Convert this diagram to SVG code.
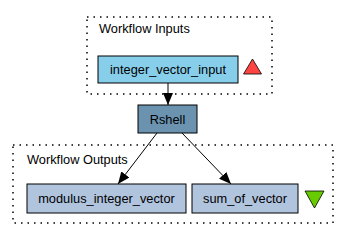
<svg xmlns="http://www.w3.org/2000/svg" width="349" height="240" viewBox="0 0 349 240">
  <defs>
    <style>
      text { font-family: "Liberation Sans", Arial, sans-serif; font-size: 12.8px; fill: #000; }
      .cluster { fill: none; stroke: #000; stroke-width: 1.5; stroke-dasharray: 1.5 5; }
      .node { stroke: #000; stroke-width: 1; }
      .edge { fill: none; stroke: #000; stroke-width: 1; }
      .mid { text-anchor: middle; }
    </style>
    <marker id="arrow" viewBox="0 0 12 10" refX="12" refY="5" markerWidth="12" markerHeight="10" markerUnits="userSpaceOnUse" orient="auto">
      <path d="M0,0 L12,5 L0,10 Z" fill="#000"/>
    </marker>
  </defs>
  <rect width="349" height="240" fill="#fff"/>

  <g id="cluster-inputs">
    <rect class="cluster" x="87" y="17" width="185" height="77"/>
    <text x="99" y="33">Workflow Inputs</text>
  </g>
  <g id="cluster-outputs">
    <rect class="cluster" x="13" y="145" width="320" height="78"/>
    <text x="27" y="164">Workflow Outputs</text>
  </g>

  <g id="connectors">
    <path class="edge" d="M168,83 L168,105" marker-end="url(#arrow)"/>
    <path class="edge" d="M157,133 L118,184" marker-end="url(#arrow)"/>
    <path class="edge" d="M182,133 L231,184" marker-end="url(#arrow)"/>
  </g>

  <g id="integer_vector_input">
    <rect class="node" x="98" y="56" width="140" height="27" fill="#87ceeb"/>
    <text class="mid" x="168" y="74">integer_vector_input</text>
  </g>
  <g id="inputs-marker">
    <polygon points="252.5,59 261.5,74 243.5,74" fill="#ff4444" stroke="#000" stroke-width="0.8"/>
  </g>

  <g id="Rshell">
    <rect class="node" x="138" y="105" width="59" height="28" fill="#6b93b0"/>
    <text class="mid" x="167.5" y="123.5">Rshell</text>
  </g>

  <g id="modulus_integer_vector">
    <rect class="node" x="27" y="184" width="159" height="29" fill="#b0c4de"/>
    <text class="mid" x="106.5" y="203">modulus_integer_vector</text>
  </g>
  <g id="sum_of_vector">
    <rect class="node" x="192" y="184" width="106" height="29" fill="#b0c4de"/>
    <text class="mid" x="245" y="203">sum_of_vector</text>
  </g>
  <g id="outputs-marker">
    <polygon points="305,191 324,191 314.5,208" fill="#66cc00" stroke="#000" stroke-width="0.8"/>
  </g>
</svg>
